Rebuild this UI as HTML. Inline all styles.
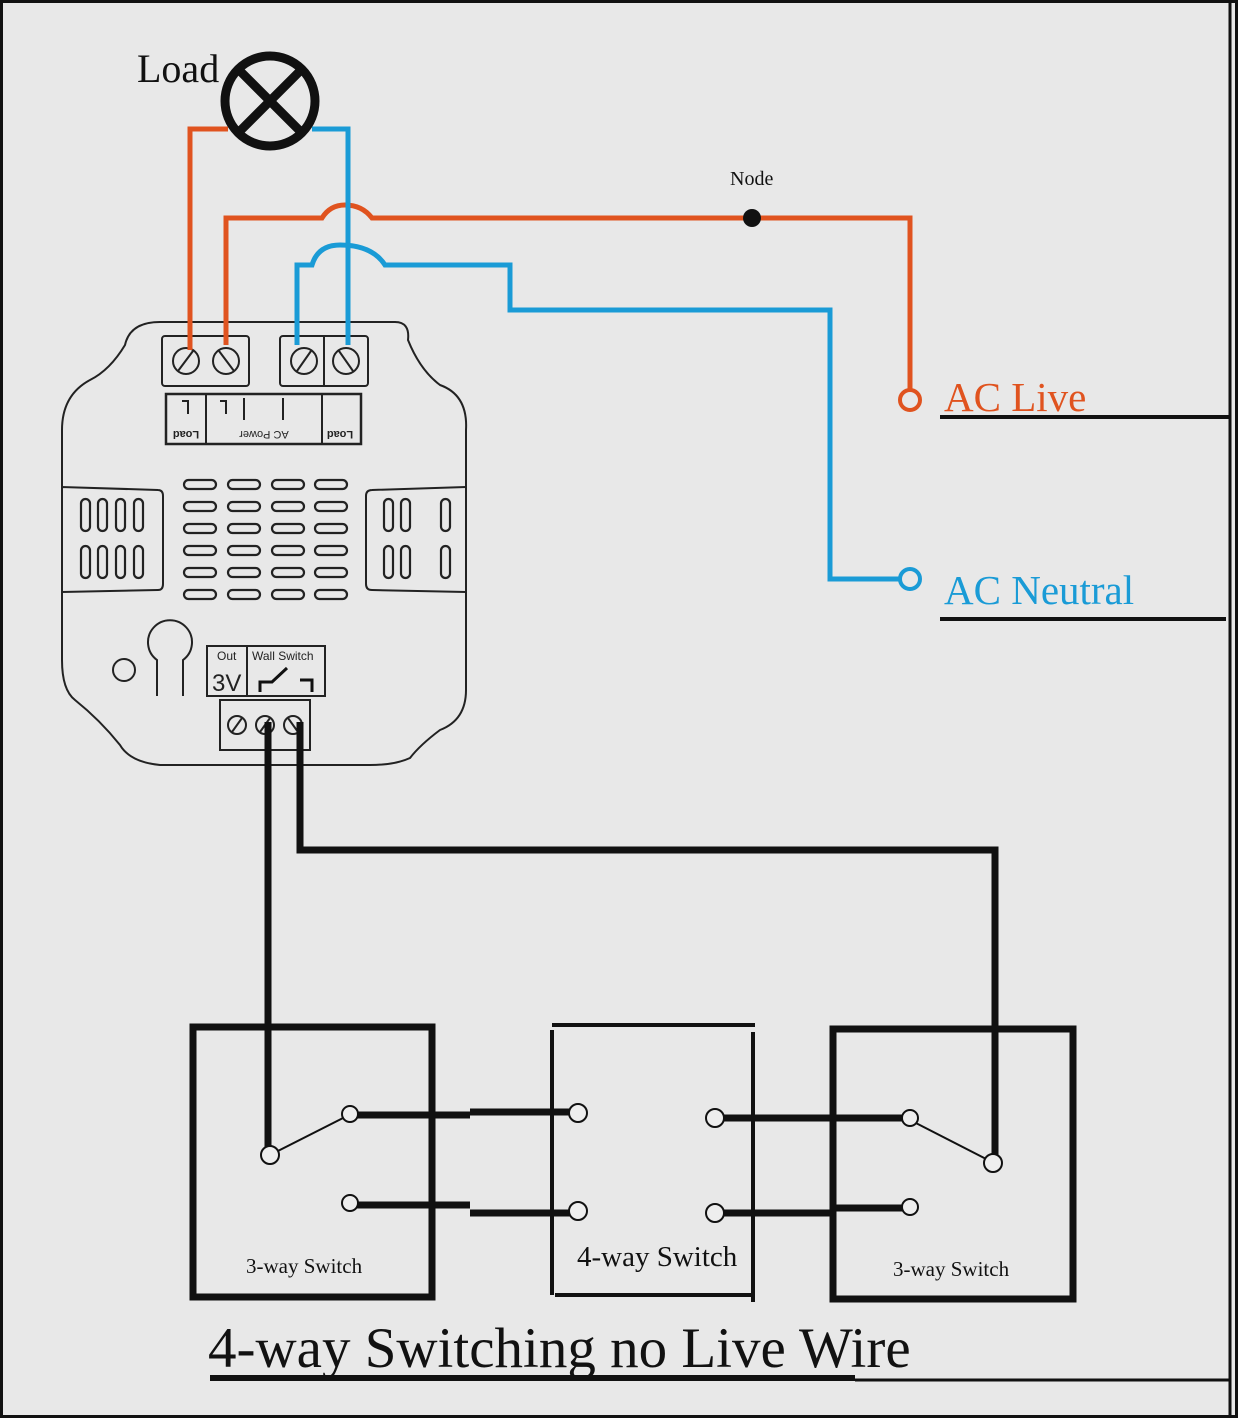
<!DOCTYPE html>
<html><head><style>html,body{margin:0;padding:0;background:#e8e8e8}svg{display:block}</style></head><body>
<svg width="1238" height="1418" viewBox="0 0 1238 1418" xmlns="http://www.w3.org/2000/svg" font-family="Liberation Serif, serif">
<rect x="0" y="0" width="1238" height="1418" fill="#e8e8e8"/>
<rect x="1.5" y="1.5" width="1235" height="1415" fill="none" stroke="#111" stroke-width="3"/>
<line x1="1230" y1="0" x2="1230" y2="1418" stroke="#111" stroke-width="3"/>
<g fill="none" stroke="#222" stroke-width="2">
<path d="M160,322 L395,322 Q410,322 408,340 Q420,370 440,385 Q468,395 466,430 L466,690 Q466,720 440,730 Q420,745 410,758 Q395,765 370,765 L160,765 Q130,762 120,745 Q100,720 75,700 Q62,690 62,660 L62,430 Q62,395 90,380 Q110,370 125,345 Q130,322 160,322 Z"/>
<rect x="162" y="336" width="87" height="50" rx="3"/>
<rect x="280" y="336" width="88" height="50" rx="3"/>
<line x1="324" y1="336" x2="324" y2="386"/>
<circle cx="186" cy="361" r="13"/><line x1="178" y1="371" x2="193" y2="351"/>
<circle cx="226" cy="361" r="13"/><line x1="219" y1="351" x2="234" y2="371"/>
<circle cx="304" cy="361" r="13"/><line x1="297" y1="371" x2="311" y2="351"/>
<circle cx="346" cy="361" r="13"/><line x1="339" y1="351" x2="353" y2="371"/>
<rect x="166" y="394" width="195" height="50" stroke-width="2.5"/>
<line x1="206" y1="394" x2="206" y2="444"/><line x1="322" y1="394" x2="322" y2="444"/>
<path d="M182,401 L188,401 L188,414" /><path d="M220,401 L226,401 L226,414"/>
<line x1="244" y1="398" x2="244" y2="420"/><line x1="283" y1="398" x2="283" y2="420"/>
<path d="M62,490 L62,487 L158,490 Q163,490 163,496 L163,584 Q163,590 158,590 L62,592"/>
<path d="M466,487 L372,490 Q366,490 366,496 L366,584 Q366,590 372,590 L466,592"/>
<circle cx="124" cy="670" r="11"/>
<path d="M157,696 L157,660 A22,22 0 1 1 183,660 L183,696"/>
<rect x="207" y="646" width="118" height="50"/><line x1="247" y1="646" x2="247" y2="696"/>
<rect x="220" y="700" width="90" height="50"/>
<circle cx="237" cy="725" r="9"/><line x1="232" y1="732" x2="242" y2="718"/>
<circle cx="265" cy="725" r="9"/><line x1="260" y1="732" x2="270" y2="718"/>
<circle cx="293" cy="725" r="9"/><line x1="288" y1="718" x2="298" y2="732"/>
</g>
<path d="M260,692 L260,682 L272,682 L287,668 M300,680 L312,680 L312,692" fill="none" stroke="#111" stroke-width="3"/>
<g fill="none" stroke="#222" stroke-width="2.2">
<rect x="81" y="499" width="9" height="32" rx="4.5"/><rect x="98" y="499" width="9" height="32" rx="4.5"/><rect x="116" y="499" width="9" height="32" rx="4.5"/><rect x="134" y="499" width="9" height="32" rx="4.5"/>
<rect x="81" y="546" width="9" height="32" rx="4.5"/><rect x="98" y="546" width="9" height="32" rx="4.5"/><rect x="116" y="546" width="9" height="32" rx="4.5"/><rect x="134" y="546" width="9" height="32" rx="4.5"/>
<rect x="384" y="499" width="9" height="32" rx="4.5"/><rect x="401" y="499" width="9" height="32" rx="4.5"/><rect x="441" y="499" width="9" height="32" rx="4.5"/>
<rect x="384" y="546" width="9" height="32" rx="4.5"/><rect x="401" y="546" width="9" height="32" rx="4.5"/><rect x="441" y="546" width="9" height="32" rx="4.5"/>
</g>
<g fill="none" stroke="#222" stroke-width="2.2">
<g id="vr"><rect x="184" y="480" width="32" height="9" rx="4.5"/><rect x="228" y="480" width="32" height="9" rx="4.5"/><rect x="272" y="480" width="32" height="9" rx="4.5"/><rect x="315" y="480" width="32" height="9" rx="4.5"/></g>
<use href="#vr" y="22"/><use href="#vr" y="44"/><use href="#vr" y="66"/><use href="#vr" y="88"/><use href="#vr" y="110"/>
</g>
<g font-family="Liberation Sans, sans-serif" fill="#222">
<text x="186" y="431" font-size="11" font-weight="bold" text-anchor="middle" transform="rotate(180 186 431)">Load</text>
<text x="264" y="431" font-size="11" text-anchor="middle" transform="rotate(180 264 431)">AC Power</text>
<text x="340" y="431" font-size="11" font-weight="bold" text-anchor="middle" transform="rotate(180 340 431)">Load</text>
<text x="217" y="660" font-size="12">Out</text>
<text x="252" y="660" font-size="12">Wall Switch</text>
<text x="212" y="691" font-size="24">3V</text>
</g>
<g fill="none" stroke-width="5" stroke-linejoin="miter">
<path d="M190,350 L190,129 L228,129" stroke="#e0531f"/>
<path d="M226,345 L226,218 L322,218 Q330,205 345,205 Q362,205 372,218 L910,218 L910,392" stroke="#e0531f"/>
<path d="M348,345 L348,129 L312,129" stroke="#1a9bd6"/>
<path d="M297,345 L297,265 L312,265 Q318,245 340,245 Q372,245 385,265 L510,265 L510,310 L830,310 L830,579 L899,579" stroke="#1a9bd6"/>
</g>
<circle cx="910" cy="400" r="10" fill="none" stroke="#e0531f" stroke-width="4"/>
<circle cx="910" cy="579" r="10" fill="none" stroke="#1a9bd6" stroke-width="4"/>
<circle cx="752" cy="218" r="9" fill="#111"/>
<text x="730" y="185" font-size="20" fill="#111">Node</text>
<circle cx="270" cy="101" r="45" fill="none" stroke="#111" stroke-width="9"/>
<path d="M240,71 L300,131 M300,71 L240,131" stroke="#111" stroke-width="9"/>
<text x="137" y="82" font-size="40" fill="#111">Load</text>
<text x="944" y="411" font-size="41" fill="#e0531f">AC Live</text>
<text x="944" y="604" font-size="41" fill="#1a9bd6">AC Neutral</text>
<line x1="940" y1="417" x2="1230" y2="417" stroke="#111" stroke-width="4"/>
<line x1="940" y1="619" x2="1226" y2="619" stroke="#111" stroke-width="4"/>
<g fill="none" stroke="#111" stroke-width="7">
<path d="M268,722 L268,1148"/>
<path d="M300,722 L300,850 L995,850 L995,1156"/>
<rect x="193" y="1027" width="239" height="270"/>
<rect x="833" y="1029" width="240" height="270"/>
<path d="M350,1115 L470,1115 M470,1112 L578,1112"/>
<path d="M350,1205 L470,1205 M470,1213 L578,1213"/>
<path d="M715,1118 L910,1118"/>
<path d="M715,1213 L830,1213 M830,1208 L910,1208"/>
</g>
<g stroke="#111" stroke-width="4" fill="none">
<line x1="552" y1="1025" x2="755" y2="1025"/>
<line x1="552" y1="1030" x2="552" y2="1295"/>
<line x1="753" y1="1032" x2="753" y2="1302"/>
<line x1="555" y1="1295" x2="753" y2="1295"/>
</g>
<g stroke="#111" stroke-width="2" fill="#eee">
<line x1="270" y1="1155" x2="347" y2="1116"/>
<line x1="910" y1="1120" x2="992" y2="1162"/>
<circle cx="270" cy="1155" r="9"/><circle cx="350" cy="1114" r="8"/><circle cx="350" cy="1203" r="8"/>
<circle cx="578" cy="1113" r="9"/><circle cx="578" cy="1211" r="9"/><circle cx="715" cy="1118" r="9"/><circle cx="715" cy="1213" r="9"/>
<circle cx="910" cy="1118" r="8"/><circle cx="910" cy="1207" r="8"/><circle cx="993" cy="1163" r="9"/>
</g>
<text x="246" y="1273" font-size="21" fill="#111">3-way Switch</text>
<text x="577" y="1266" font-size="29" fill="#111">4-way Switch</text>
<text x="893" y="1276" font-size="21" fill="#111">3-way Switch</text>
<text x="208" y="1367" font-size="57" fill="#111">4-way Switching no Live Wire</text>
<line x1="210" y1="1378" x2="855" y2="1378" stroke="#111" stroke-width="6"/>
<line x1="855" y1="1380" x2="1230" y2="1380" stroke="#111" stroke-width="3"/>
</svg>
</body></html>
